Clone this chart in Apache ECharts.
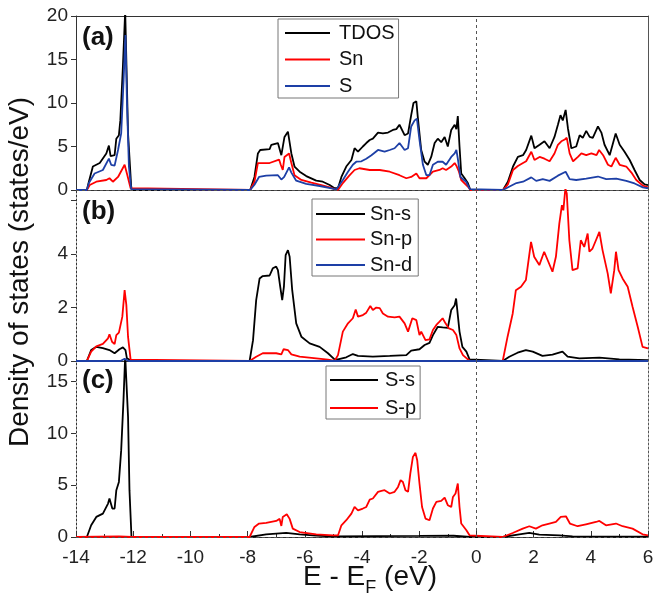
<!DOCTYPE html>
<html><head><meta charset="utf-8">
<script src="https://cdn.jsdelivr.net/npm/echarts@6/dist/echarts.min.js"></script>
<style>html,body{margin:0;padding:0;background:#fff}#c{width:666px;height:597px}</style>
</head><body><div id="c"></div>
<script>
// ---------- DATA: [E - E_F (eV), DOS (states/eV)] ----------
const xTicks = [-14, -12, -10, -8, -6, -4, -2, 0, 2, 4, 6];

// panel (a)
const tdos = [[-14,0],[-13.62,0],[-13.55,0.95],[-13.41,2.7],[-13.17,3.1],[-12.94,4.2],[-12.85,5.1],[-12.79,3.9],[-12.65,4.0],[-12.59,5.9],[-12.5,6.3],[-12.45,8.0],[-12.36,14.2],[-12.28,20.6],[-12.24,20.6],[-12.18,6.5],[-12.07,0.4],[-12.05,0],
[-7.91,0],[-7.76,1.5],[-7.64,4.2],[-7.56,4.6],[-7.23,4.7],[-7.17,5.2],[-6.94,5.4],[-6.88,5.2],[-6.82,4.0],[-6.77,3.9],[-6.71,6.1],[-6.59,6.7],[-6.53,6.6],[-6.47,4.2],[-6.36,2.7],[-6.18,2.1],[-5.95,1.6],[-5.6,1.07],[-5.37,0.95],[-5.13,0.57],[-4.96,0.2],[-4.9,0.15],[-4.84,0.2],[-4.72,1.5],[-4.55,2.7],[-4.37,3.45],[-4.26,4.8],[-4.14,4.4],[-3.97,5.0],[-3.85,5.4],[-3.73,5.75],[-3.62,5.9],[-3.44,6.6],[-3.27,6.5],[-3.09,6.6],[-2.92,6.9],[-2.8,7.0],[-2.69,7.5],[-2.51,6.3],[-2.39,6.5],[-2.28,8.6],[-2.2,10.0],[-2.1,10.2],[-2.05,8.4],[-1.93,4.6],[-1.81,3.25],[-1.7,2.9],[-1.58,3.8],[-1.46,5.4],[-1.35,5.9],[-1.23,5.5],[-1.11,6.1],[-1.0,5.0],[-0.88,6.9],[-0.76,7.5],[-0.7,7.0],[-0.65,8.5],[-0.59,5.0],[-0.53,1.9],[-0.41,1.35],[-0.3,0.8],[-0.21,0],
[0.93,0],[1.1,0.95],[1.28,2.7],[1.45,3.8],[1.63,4.0],[1.74,4.6],[1.92,6.25],[2.03,4.8],[2.21,5.2],[2.38,5.6],[2.56,4.8],[2.73,6.1],[2.85,7.5],[2.94,8.6],[3.02,8.0],[3.12,9.2],[3.2,7.1],[3.32,4.8],[3.49,5.0],[3.61,6.3],[3.72,6.0],[3.84,6.8],[3.96,6.1],[4.07,6.0],[4.25,7.3],[4.37,6.6],[4.48,5.2],[4.66,4.0],[4.87,6.5],[5.01,5.2],[5.18,4.4],[5.36,3.45],[5.53,2.3],[5.71,1.15],[5.88,0.65],[6.0,0.57]];

const snTot = [[-14,0],[-13.62,0],[-13.52,0.57],[-13.29,0.95],[-12.94,1.15],[-12.83,1.35],[-12.71,0.95],[-12.53,1.5],[-12.3,2.9],[-12.22,1.9],[-12.09,0.2],[-12.05,0],
[-7.91,0],[-7.76,0.95],[-7.64,3.1],[-7.23,3.1],[-7.17,3.3],[-6.9,3.5],[-6.84,2.9],[-6.77,2.3],[-6.71,3.8],[-6.55,4.2],[-6.47,3.1],[-6.36,1.7],[-6.12,1.15],[-5.77,0.85],[-5.42,0.57],[-5.13,0.3],[-4.96,0.1],[-4.84,0],[-4.67,0.8],[-4.43,1.7],[-4.26,2.3],[-4.09,2.5],[-3.73,2.3],[-3.38,2.3],[-3.03,2.1],[-2.69,1.7],[-2.45,1.35],[-2.28,1.5],[-2.1,1.9],[-1.99,1.35],[-1.75,1.35],[-1.52,2.1],[-1.29,2.3],[-1.18,2.5],[-1.06,2.3],[-0.88,2.7],[-0.76,3.1],[-0.7,2.8],[-0.61,2.1],[-0.53,1.15],[-0.3,0.4],[-0.21,0],
[0.93,0],[1.1,0.65],[1.28,2.3],[1.45,2.76],[1.63,3.1],[1.74,3.3],[1.92,4.4],[2.03,3.45],[2.21,3.8],[2.38,3.6],[2.56,3.3],[2.73,4.2],[2.85,5.2],[2.97,5.6],[3.09,5.8],[3.16,6.0],[3.26,4.2],[3.38,3.3],[3.55,3.8],[3.67,4.2],[3.84,4.0],[4.02,4.2],[4.2,4.0],[4.29,4.6],[4.43,4.0],[4.6,2.9],[4.72,2.7],[4.87,3.7],[5.01,2.9],[5.24,2.7],[5.42,2.0],[5.59,1.15],[5.82,0.5],[6.0,0.3]];

const sTot = [[-14,0],[-13.62,0],[-13.55,0.8],[-13.35,1.9],[-13.06,2.3],[-12.85,3.6],[-12.77,2.9],[-12.65,2.8],[-12.53,4.6],[-12.42,6.5],[-12.34,12.3],[-12.27,17.8],[-12.22,10.3],[-12.15,2.7],[-12.07,0.1],[-12.05,0],
[-7.91,0],[-7.76,0.6],[-7.6,1.5],[-7.35,1.65],[-6.94,1.7],[-6.82,1.2],[-6.72,1.5],[-6.55,2.6],[-6.47,2.0],[-6.3,1.07],[-5.95,0.7],[-5.48,0.46],[-5.02,0.15],[-4.9,0.05],[-4.84,0.1],[-4.67,1.15],[-4.49,2.1],[-4.32,2.9],[-4.2,3.25],[-4.02,3.3],[-3.85,3.6],[-3.67,4.0],[-3.44,4.6],[-3.21,4.4],[-3.03,4.6],[-2.86,4.8],[-2.69,5.4],[-2.51,4.6],[-2.39,4.8],[-2.28,7.3],[-2.16,8.0],[-2.08,8.2],[-1.99,5.75],[-1.87,2.9],[-1.75,1.7],[-1.64,1.7],[-1.52,2.9],[-1.35,3.25],[-1.18,3.25],[-1.06,2.9],[-0.88,3.8],[-0.76,4.2],[-0.7,4.6],[-0.65,3.6],[-0.56,1.5],[-0.36,0.95],[-0.23,0.1],[-0.21,0],
[0.93,0],[1.16,0.4],[1.4,0.8],[1.63,0.95],[1.92,1.45],[2.09,1.05],[2.32,1.25],[2.56,1.05],[2.85,1.65],[3.12,2.1],[3.26,1.25],[3.49,1.15],[3.84,1.3],[4.25,1.55],[4.54,1.25],[4.89,1.3],[5.24,1.05],[5.53,0.75],[5.82,0.3],[6.0,0.2]];

// panel (b)
const snS = [[-14,0],[-13.62,0],[-13.47,0.41],[-13.29,0.53],[-13.06,0.48],[-12.83,0.41],[-12.65,0.29],[-12.48,0.44],[-12.36,0.51],[-12.27,0.41],[-12.22,0.1],[-12.05,0],
[-7.93,0],[-7.81,0.78],[-7.7,2.28],[-7.58,3.09],[-7.47,3.18],[-7.23,3.2],[-7.12,3.47],[-7.0,3.53],[-6.94,3.4],[-6.86,2.78],[-6.79,2.28],[-6.73,2.78],[-6.67,3.96],[-6.59,4.15],[-6.53,3.9],[-6.44,2.65],[-6.3,1.41],[-6.12,0.91],[-5.83,0.66],[-5.48,0.53],[-5.19,0.29],[-4.96,0.06],[-4.84,0.06],[-4.55,0.14],[-4.32,0.26],[-4.14,0.19],[-3.62,0.16],[-3.03,0.19],[-2.45,0.22],[-2.28,0.39],[-1.99,0.44],[-1.81,0.6],[-1.64,0.68],[-1.52,0.97],[-1.35,1.28],[-1.18,1.26],[-1.0,1.24],[-0.88,1.91],[-0.76,2.09],[-0.71,2.34],[-0.65,2.3],[-0.59,1.1],[-0.49,0.53],[-0.35,0.35],[-0.24,0.06],[-0.21,0],
[0.92,0],[1.15,0.16],[1.44,0.31],[1.73,0.41],[1.97,0.35],[2.31,0.19],[2.66,0.24],[3.01,0.35],[3.19,0.16],[3.6,0.1],[4.3,0.13],[5.0,0.06],[6.0,0.03]];

const snP = [[-14,0],[-13.62,0],[-13.47,0.35],[-13.29,0.55],[-13.06,0.64],[-12.88,0.85],[-12.83,1.0],[-12.74,0.72],[-12.65,0.63],[-12.59,0.97],[-12.5,1.06],[-12.38,1.66],[-12.3,2.65],[-12.24,2.1],[-12.18,0.9],[-12.09,0.05],[-12.05,0],
[-7.93,0],[-7.7,0.16],[-7.47,0.29],[-7.0,0.29],[-6.82,0.25],[-6.74,0.44],[-6.59,0.41],[-6.47,0.25],[-6.18,0.16],[-5.6,0.1],[-5.19,0.05],[-4.96,0],[-4.84,0.22],[-4.67,1.1],[-4.49,1.41],[-4.32,1.6],[-4.22,1.93],[-4.14,1.66],[-3.97,1.72],[-3.85,1.81],[-3.71,2.06],[-3.62,1.91],[-3.5,2.0],[-3.38,1.98],[-3.27,1.78],[-3.09,1.66],[-2.86,1.63],[-2.69,1.66],[-2.51,1.41],[-2.39,1.1],[-2.24,1.6],[-2.1,1.53],[-1.99,0.97],[-1.93,1.1],[-1.78,0.78],[-1.64,0.81],[-1.52,1.16],[-1.4,1.35],[-1.29,1.47],[-1.18,1.6],[-1.08,1.41],[-0.96,1.22],[-0.82,1.16],[-0.7,0.97],[-0.59,0.47],[-0.47,0.22],[-0.3,0.06],[-0.21,0],
[0.92,0],[1.09,0.91],[1.27,1.78],[1.38,2.65],[1.56,2.78],[1.73,3.03],[1.91,4.46],[2.02,3.9],[2.2,3.59],[2.37,4.09],[2.49,3.78],[2.66,3.34],[2.78,3.9],[2.9,5.15],[2.99,5.83],[3.04,5.64],[3.11,6.45],[3.16,6.27],[3.25,4.52],[3.36,3.4],[3.54,3.47],[3.65,4.52],[3.77,4.27],[3.89,4.77],[3.95,4.09],[4.06,4.21],[4.18,4.52],[4.3,4.83],[4.41,4.15],[4.59,3.28],[4.7,2.53],[4.82,3.4],[4.88,4.09],[4.97,3.4],[5.11,3.09],[5.29,2.78],[5.46,2.03],[5.64,1.28],[5.81,0.53],[6.0,0.47]];

const snD = [[-14,0],[-12.45,0],[-12.3,0.08],[-12.15,0],[6,0]];

// panel (c)
const sS = [[-14,0],[-13.62,0],[-13.47,1.13],[-13.29,1.94],[-13.06,2.26],[-12.88,3.23],[-12.83,3.72],[-12.73,2.75],[-12.65,2.75],[-12.59,4.52],[-12.5,5.32],[-12.42,8.39],[-12.34,13.2],[-12.28,17.5],[-12.24,17.5],[-12.18,11.6],[-12.13,4.5],[-12.06,0],
[-7.93,0],[-7.35,0.26],[-6.65,0.39],[-6.18,0.26],[-5.6,0.13],[-4.96,0.05],[-3.5,0.08],[-2.0,0.1],[-0.8,0.12],[-0.21,0],
[0.92,0],[1.5,0.26],[1.85,0.39],[2.2,0.23],[2.9,0.16],[3.36,0.06],[6.0,0.03]];

const sP = [[-14,0],[-12.5,0.05],[-12.05,0],
[-7.93,0],[-7.76,0.97],[-7.6,1.3],[-7.35,1.36],[-7.0,1.55],[-6.88,1.75],[-6.82,1.07],[-6.77,1.94],[-6.63,2.2],[-6.53,1.75],[-6.42,0.81],[-6.18,0.48],[-5.6,0.26],[-5.02,0.16],[-4.96,0],[-4.84,0.15],[-4.72,1.13],[-4.55,1.62],[-4.37,2.26],[-4.26,2.9],[-4.14,2.58],[-3.97,2.75],[-3.85,2.9],[-3.73,3.62],[-3.62,3.72],[-3.44,4.36],[-3.32,4.45],[-3.21,4.52],[-3.03,4.2],[-2.86,4.36],[-2.74,4.84],[-2.65,5.49],[-2.57,5.32],[-2.48,4.52],[-2.39,4.36],[-2.31,6.14],[-2.22,7.74],[-2.13,8.13],[-2.07,7.42],[-1.99,5.17],[-1.9,2.9],[-1.78,1.78],[-1.64,1.62],[-1.52,2.75],[-1.47,2.58],[-1.4,3.39],[-1.23,3.49],[-1.11,3.81],[-1.0,3.07],[-0.88,2.9],[-0.82,3.87],[-0.73,4.2],[-0.69,4.2],[-0.65,5.17],[-0.59,2.9],[-0.53,1.3],[-0.35,0.65],[-0.24,0.16],[-0.21,0],
[0.92,0],[1.27,0.39],[1.62,0.81],[1.85,1.04],[2.08,0.81],[2.31,1.13],[2.55,1.3],[2.78,1.45],[2.95,1.94],[3.13,2.0],[3.27,1.3],[3.54,1.04],[3.83,1.23],[4.18,1.45],[4.3,1.55],[4.53,1.13],[4.88,1.3],[5.11,1.04],[5.46,0.81],[5.81,0.26],[6.0,0.16]];

const legendA = ['TDOS', 'Sn', 'S'];
const legendB = ['Sn-s', 'Sn-p', 'Sn-d'];
const legendC = ['S-s', 'S-p'];
const yRanges = [{min:0, max:20, interval:5}, {min:0, max:6.4, interval:2}, {min:0, max:17, interval:5}];
const yLabelMax = [20, 4, 15];

// ---------- CHART ----------
const FONT = '"Liberation Sans", Arial, sans-serif';
const AX = '#333';
const BLACK = '#000000', RED = '#ff0000', BLUE = '#1d3fa6';
const grids = [
  {left:76, top:16, width:572, height:174},
  {left:76, top:190, width:572, height:171},
  {left:76, top:361, width:572, height:176}
];
const xAxes = [0,1,2].map(i => ({
  type:'value', gridIndex:i, min:xTicks[0], max:xTicks[xTicks.length-1], interval:2,
  axisLine:{show:true, onZero:false, lineStyle:{color:AX, width:1}},
  axisTick:{show:i===2, inside:true, length:6, lineStyle:{color:AX}},
  minorTick:{show:i===2, splitNumber:2, length:3, lineStyle:{color:AX}},
  axisLabel:{show:i===2, fontSize:19, fontFamily:FONT, color:'#222', margin:11},
  splitLine:{show:false}
}));
xAxes.push({type:'value', gridIndex:0, position:'top', min:-14, max:6,
  axisLine:{show:true, onZero:false, lineStyle:{color:AX, width:1}}, axisTick:{show:false}, axisLabel:{show:false}, splitLine:{show:false}});
const yAxes = [0,1,2].map(i => ({
  type:'value', gridIndex:i, min:yRanges[i].min, max:yRanges[i].max, interval:yRanges[i].interval,
  axisLine:{show:true, onZero:false, lineStyle:{color:AX, width:1, type: i===0 ? 'solid' : [2,2]}},
  axisTick:{show:true, inside:false, length:5, lineStyle:{color:AX}},
  axisLabel:{fontSize:19, fontFamily:FONT, color:'#222', margin:8, showMaxLabel:i===0,
    formatter: v => (v > yLabelMax[i] || v % yRanges[i].interval !== 0) ? '' : String(v)},
  splitLine:{show:false}
}));
[0,1,2].forEach(i => yAxes.push({
  type:'value', gridIndex:i, position:'right', min:yRanges[i].min, max:yRanges[i].max,
  axisLine:{show:true, onZero:false, lineStyle:{color:'#555', width:1, type: i===0 ? 'solid' : [2,2]}},
  axisTick:{show:false}, axisLabel:{show:false}, splitLine:{show:false}
}));

const vLine = {silent:true, symbol:'none', label:{show:false},
  lineStyle:{color:'#555', width:1, type:[3,3]}, data:[{xAxis:0}]};
const zLine = {silent:true, symbol:'none', label:{show:false},
  lineStyle:{color:'#555', width:1, type:[3,3]}, data:[{xAxis:0},{yAxis:0}]};

function ser(name, data, color, gi, z, ml) {
  const s = {name, type:'line', data, xAxisIndex:gi, yAxisIndex:gi, symbol:'none', showSymbol:false,
    lineStyle:{color, width:1.8}, itemStyle:{color}, z, clip:true, animation:false};
  if (ml) s.markLine = ml;
  return s;
}
const series = [
  ser('TDOS', tdos, BLACK, 0, 2, zLine),
  ser('Sn', snTot, RED, 0, 3),
  ser('S', sTot, BLUE, 0, 4),
  ser('Sn-s', snS, BLACK, 1, 2, vLine),
  ser('Sn-p', snP, RED, 1, 3),
  ser('Sn-d', snD, BLUE, 1, 4),
  ser('S-s', sS, BLACK, 2, 2, zLine),
  ser('S-p', sP, RED, 2, 3)
];

function leg(data, left, top, iw, gap, pad, tpad) {
  return {data, orient:'vertical', left, top, icon:'rect', itemWidth:iw, itemHeight:2, itemGap:gap,
    padding:pad, borderColor:'#777', borderWidth:1, backgroundColor:'#fff',
    textStyle:{fontSize:20, fontFamily:FONT, color:'#111', lineHeight:20, padding:[0,0,0,tpad]}};
}

const chart = echarts.init(document.getElementById('c'), null, {renderer:'canvas'});
chart.setOption({
  animation:false,
  backgroundColor:'#fff',
  grid: grids,
  xAxis: xAxes,
  yAxis: yAxes,
  legend: [
    leg(legendA, 278, 19, 45, 6.5, [4, 4, 2, 7], 4),
    leg(legendB, 312, 199, 49, 5.5, [5, 6, 1, 4], 0),
    leg(legendC, 326, 366, 48, 8, [4, 4, 1, 4], 2)
  ],
  series,
  graphic: [
    {type:'text', x:82, y:38, style:{text:'(a)', font:'bold 26px ' + FONT, fill:'#111', align:'left', verticalAlign:'middle'}},
    {type:'text', x:82, y:212, style:{text:'(b)', font:'bold 26px ' + FONT, fill:'#111', align:'left', verticalAlign:'middle'}},
    {type:'text', x:82, y:381, style:{text:'(c)', font:'bold 26px ' + FONT, fill:'#111', align:'left', verticalAlign:'middle'}},
    {type:'text', x:20, y:272, rotation:Math.PI/2,
      style:{text:'Density of states (states/eV)', font:'28px ' + FONT, fill:'#111', align:'center', verticalAlign:'middle'}},
    {type:'text', x:370, y:580,
      style:{text:'{m|E - E}{s|F}{m| (eV)}', align:'center', verticalAlign:'middle', fill:'#111',
        rich:{m:{fontSize:28, fontFamily:FONT, fill:'#111', verticalAlign:'bottom', padding:[0,0,6,0]},
              s:{fontSize:18, fontFamily:FONT, fill:'#111', verticalAlign:'bottom'}}}}
  ]
});
</script>
</body></html>
